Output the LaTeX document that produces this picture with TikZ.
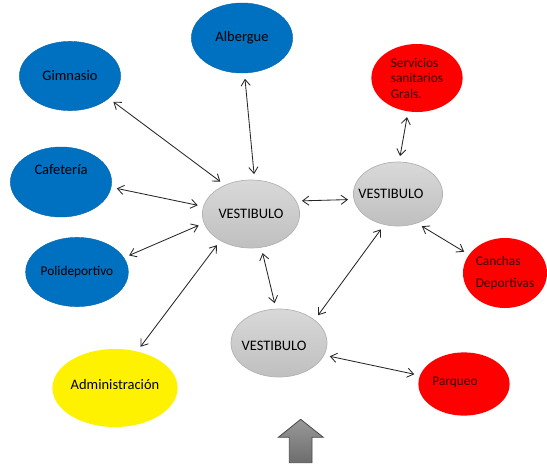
\documentclass[tikz,border=0pt]{standalone}
\usepackage{fontspec}
\setmainfont{Carlito}
\usetikzlibrary{arrows.meta, shapes.geometric, positioning}
\definecolor{officeblue}{HTML}{0070C0}

\tikzset{
  bubble/.style={ellipse, inner sep=0pt, align=left, font=\fontsize{10.3}{12}\selectfont},
  bluebub/.style={bubble, fill=officeblue, draw=officeblue!90!black, line width=0.3pt},
  redbub/.style={bubble, fill=red, text=black!80!red, font=\fontsize{9.5}{11}\selectfont},
  yellowbub/.style={bubble, fill=yellow},
  hallbub/.style={bubble, draw=black!30, top color=black!15, bottom color=black!25, line width=0.5pt},
  link/.style={<->, draw=black!85, line width=0.6pt, shorten <=4pt, shorten >=4pt},
}

\begin{document}
\begin{tikzpicture}[x=0.025cm, y=-0.025cm, >={Straight Barb[length=4.5pt,width=6.5pt]}]
  \useasboundingbox (0,0) rectangle (547,468);

  \node[bluebub, minimum width=2.53cm, minimum height=1.75cm] (alb) at (242,38) {Albergue};
  \node[bluebub, minimum width=2.53cm, minimum height=1.73cm] (gim) at (70,76) {Gimnasio};
  \node[bluebub, minimum width=2.53cm, minimum height=1.75cm,
        label={[yshift=9pt, font=\fontsize{10.3}{12}\selectfont]center:Cafetería}] (caf) at (61,182) {};
  \node[bluebub, minimum width=2.53cm, minimum height=1.73cm,
        font=\fontsize{9.5}{11}\selectfont] (poli) at (77,272) {Polideportivo};
  \node[yellowbub, minimum width=2.63cm, minimum height=1.95cm] (adm) at (115,388) {\raisebox{5pt}{Administración}};

  \node[hallbub, minimum width=2.43cm, minimum height=1.70cm] (v1) at (251,214) {VESTIBULO};
  \node[hallbub, minimum width=2.23cm, minimum height=1.60cm,
        label={[xshift=-5pt, font=\fontsize{10.3}{12}\selectfont]center:VESTIBULO}] (v2) at (398,194) {};
  \node[hallbub, minimum width=2.40cm, minimum height=1.70cm,
        label={[xshift=-3.5pt, yshift=-2pt, font=\fontsize{10.3}{12}\selectfont]center:VESTIBULO}] (v3) at (279,343) {};

  \node[redbub, minimum width=2.28cm, minimum height=1.70cm] (serv) at (417,78)
        {Servicios\\sanitarios\\Grals.};
  \node[redbub, minimum width=2.10cm, minimum height=1.75cm] (canch) at (505,273)
        {Canchas\\[5pt]Deportivas};
  \node[redbub, minimum width=2.28cm, minimum height=1.58cm,
        label={[xshift=-6.4pt, yshift=1.4pt, text=black!80!red, font=\fontsize{9.5}{11}\selectfont]center:Parqueo}] (parq) at (464,384) {};

  \draw[link] (gim.-30) -- (v1.132);
  \draw[link] (alb.-86) -- (v1.84);
  \draw[link] (caf.-6) -- (v1.171);
  \draw[link] (poli.17) -- (v1.191);
  \draw[link] (adm.59) -- (v1.221);
  \draw[link] (v1.-73) -- (v3.95);
  \draw[link] (v1.16) -- (v2.187);
  \draw[link] (serv.-105) -- (v2.88);
  \draw[link] (v2.-57) -- (canch.153);
  \draw[link] (v3.33) -- (v2.246);
  \draw[link] (v3.-15) -- (parq.169);

  \draw[draw=black!70, line width=0.6pt, top color=black!40, bottom color=black!57]
    (300.7,419.3) -- (323.3,437.3) -- (312,437.3) -- (312,462.7)
    -- (289.3,462.7) -- (289.3,437.3) -- (278.3,437.3) -- cycle;
\end{tikzpicture}
\end{document}
